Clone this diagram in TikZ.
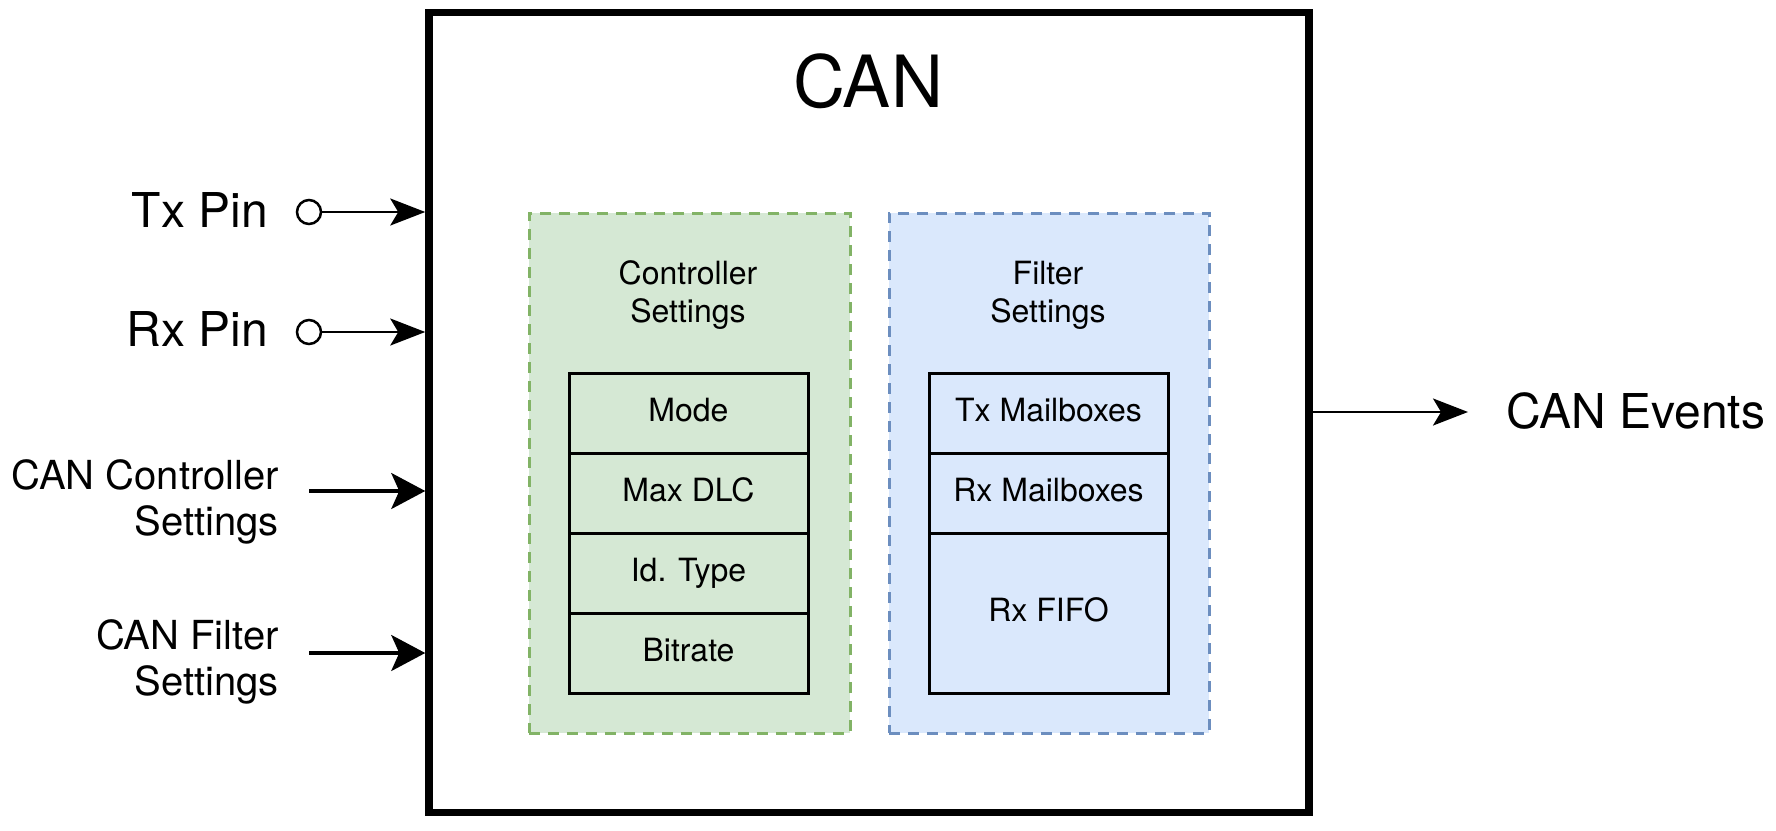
\documentclass[tikz,border=0pt]{standalone}
\usepackage{fontspec}
\setmainfont{TeX Gyre Heros}
\usetikzlibrary{arrows.meta}
\definecolor{gfill}{HTML}{D5E8D4}
\definecolor{gline}{HTML}{82B366}
\definecolor{bfill}{HTML}{DAE8FC}
\definecolor{bline}{HTML}{6C8EBF}
\tikzset{
  mainbox/.style={draw, line width=7.5pt, inner sep=0pt, minimum width=880pt, minimum height=800pt},
  gbox/.style={draw=gline, fill=gfill, line width=3pt, dash pattern=on 11pt off 8pt, inner sep=0pt, minimum width=321pt, minimum height=520pt},
  bbox/.style={draw=bline, fill=bfill, line width=3pt, dash pattern=on 11pt off 8pt, inner sep=0pt, minimum width=320pt, minimum height=520pt},
  cell/.style={draw, line width=3pt, inner sep=0pt, minimum width=239pt, minimum height=80pt, font=\fontsize{32}{38}\selectfont, text height=24pt, text depth=7pt},
  pin/.style={circle, draw, line width=2.5pt, minimum size=24pt, inner sep=0pt},
  lbl/.style={inner sep=0pt, font=\fontsize{48}{56}\selectfont},
  sidelbl/.style={inner sep=0pt, align=right, font=\fontsize{40}{46}\selectfont},
  innerlbl/.style={inner sep=0pt, align=center, font=\fontsize{32}{38}\selectfont},
  thinarr/.style={line width=2.6pt, -{Stealth[length=35pt,width=27pt,inset=8pt]}},
  thickarr/.style={line width=3.2pt, -{Stealth[length=34pt,width=36pt,inset=8pt]}}
}
\begin{document}
\begin{tikzpicture}[x=1pt,y=-1pt]
\useasboundingbox (0,0) rectangle (1776,830);

% main block
\node[mainbox] (can) at (869,412.5) {};
\node[inner sep=0pt, anchor=base, font=\fontsize{72}{86}\selectfont] (title) at (868,107) {CAN};

% containers
\node[gbox] (ctrl) at (689.5,473) {};
\node[bbox] (filt) at (1049,473) {};
\node[innerlbl] (ctrllbl) at (688,295) {Controller\\Settings};
\node[innerlbl] (filtlbl) at (1048,295) {Filter\\Settings};

% controller table
\node[cell] (mode) at (688.5,413) {Mode};
\node[cell] (dlc) at (688.5,493) {Max DLC};
\node[cell] (idt) at (688.5,573) {Id. Type};
\node[cell] (bitr) at (688.5,653) {Bitrate};

% filter table
\node[cell] (txmb) at (1048.5,413) {Tx Mailboxes};
\node[cell] (rxmb) at (1048.5,493) {Rx Mailboxes};
\node[cell, minimum height=160pt] (fifo) at (1048.5,613) {Rx FIFO};

% left inputs
\node[lbl, anchor=base east] (txl) at (268,227) {Tx Pin};
\node[lbl, anchor=base east] (rxl) at (268,346) {Rx Pin};
\node[pin] (txc) at (309,212) {};
\node[pin] (rxc) at (309,332) {};
\draw[thinarr] (txc.east) -- (txc -| can.west);
\draw[thinarr] (rxc.east) -- (rxc -| can.west);

\node[sidelbl, anchor=east] (ccl) at (279,502) {CAN Controller\\Settings};
\node[sidelbl, anchor=east] (cfl) at (279,662) {CAN Filter\\Settings};
\coordinate (ccs) at (309,491);
\coordinate (cfs) at (309,653);
\draw[thickarr] (ccs) -- (ccs -| can.west);
\draw[thickarr] (cfs) -- (cfs -| can.west);

% output
\coordinate (evt) at (1468,412);
\draw[thinarr] (can.east |- evt) -- (evt);
\node[lbl, anchor=base west] (evtl) at (1506,428) {CAN Events};
\end{tikzpicture}
\end{document}
